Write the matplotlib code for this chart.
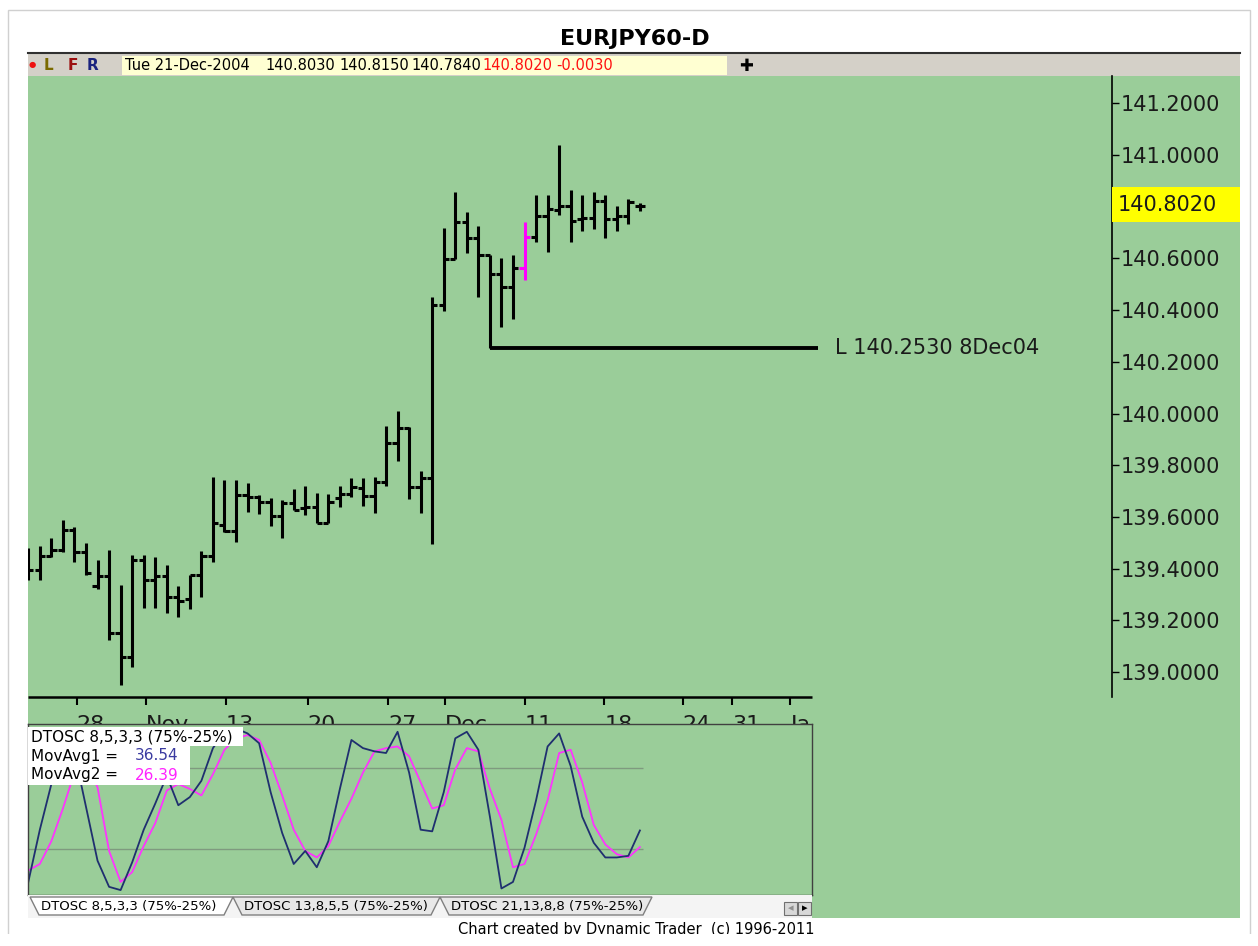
import numpy as np
import matplotlib
matplotlib.use("Agg")
import matplotlib.pyplot as plt
from matplotlib.patches import Rectangle, Polygon
from matplotlib.lines import Line2D
from matplotlib.transforms import Bbox, TransformedBbox

# ---- data (daily bars, last one Tue 21-Dec-2004) ----
opens = [139.387, 139.395, 139.449, 139.472, 139.549, 139.465, 139.334, 139.371, 139.152, 139.059,
         139.433, 139.356, 139.371, 139.291, 139.282, 139.375, 139.449, 139.569, 139.545, 139.685,
         139.678, 139.659, 139.604, 139.655, 139.634, 139.639, 139.578, 139.673, 139.689, 139.713,
         139.681, 139.736, 139.887, 139.944, 139.717, 139.752, 140.420, 140.597, 140.742, 140.678,
         140.613, 140.540, 140.491, 140.562, 140.682, 140.764, 140.787, 140.803, 140.751, 140.755,
         140.822, 140.751, 140.764, 140.803]
highs = [139.479, 139.487, 139.517, 139.588, 139.560, 139.500, 139.433, 139.472, 139.337, 139.453,
         139.453, 139.444, 139.414, 139.333, 139.375, 139.469, 139.756, 139.743, 139.743, 139.731,
         139.685, 139.673, 139.665, 139.708, 139.720, 139.694, 139.689, 139.720, 139.750, 139.750,
         139.754, 139.952, 140.011, 139.949, 139.779, 140.450, 140.718, 140.858, 140.781, 140.727,
         140.613, 140.600, 140.613, 140.742, 140.845, 140.845, 141.039, 140.865, 140.845, 140.858,
         140.845, 140.803, 140.829, 140.815]
lows = [139.356, 139.356, 139.446, 139.465, 139.427, 139.375, 139.320, 139.124, 138.950, 139.021,
        139.246, 139.246, 139.229, 139.213, 139.244, 139.291, 139.427, 139.543, 139.504, 139.619,
        139.611, 139.565, 139.518, 139.627, 139.607, 139.578, 139.578, 139.638, 139.677, 139.642,
        139.615, 139.720, 139.817, 139.669, 139.616, 139.495, 140.398, 140.597, 140.620, 140.450,
        140.253, 140.333, 140.364, 140.516, 140.665, 140.626, 140.768, 140.665, 140.707, 140.713,
        140.678, 140.707, 140.733, 140.784]
closes = [139.395, 139.449, 139.472, 139.549, 139.465, 139.384, 139.371, 139.152, 139.059, 139.433,
          139.356, 139.371, 139.291, 139.276, 139.375, 139.449, 139.576, 139.545, 139.685, 139.678,
          139.659, 139.604, 139.655, 139.627, 139.639, 139.578, 139.659, 139.689, 139.717, 139.681,
          139.736, 139.887, 139.944, 139.717, 139.752, 140.420, 140.597, 140.742, 140.678, 140.613,
          140.540, 140.491, 140.562, 140.682, 140.764, 140.790, 140.803, 140.746, 140.755, 140.822,
          140.751, 140.764, 140.819, 140.802]
highlight_bar = 43          # the magenta bar

# DTOSC 8,5,3,3 fast line and its moving average
osc_fast = [5, 37, 65, 92, 84, 51, 18, 2, 0, 17,
            37, 53, 70, 52, 57, 67, 87, 97, 99, 96,
            90, 60, 35, 16, 24, 14, 30, 62, 92, 87,
            85, 84, 97, 72, 37, 36, 60, 93, 97, 86,
            45, 1, 5, 26, 55, 88, 96, 76, 45, 29,
            20, 20, 21, 36.54]
osc_slow = [12, 16, 30, 50, 72, 78, 63, 24, 5, 11,
            27, 41, 61, 65, 62, 58, 71, 86, 93, 95,
            92, 78, 58, 37, 24, 20, 27, 42, 56, 72,
            85, 87, 88, 82, 66, 50, 52, 74, 87, 85,
            62, 43, 14, 16, 34, 55, 84, 86, 66, 40,
            28, 22, 20, 26.39]

price_ticks = [139.0, 139.2, 139.4, 139.6, 139.8, 140.0, 140.2, 140.4, 140.6, 141.0, 141.2]
date_tick_pos = [4.2, 10.2, 17.1, 24.2, 31.2, 36.1, 43.0, 49.9, 56.7, 61.0, 66.0]
date_labels = ["28", "Nov", "13", "20", "27", "Dec", "11", "18", "24", "31", "Jan"]

support_price = 140.253
support_bar = 40
support_label = "L 140.2530 8Dec04"

info_texts = ["Tue 21-Dec-2004", "140.8030", "140.8150", "140.7840", "140.8020", "-0.0030"]
info_colors = ["black", "black", "black", "black", "#ff1010", "#ff1010"]
tab_labels = ["DTOSC 8,5,3,3 (75%-25%)", "DTOSC 13,8,5,5 (75%-25%)", "DTOSC 21,13,8,8 (75%-25%)"]

# ---- pixel layout helpers ----
W, H, DPI = 1258, 946, 100
GREEN = "#9acd99"


def fig_box(x0, y0, x1, y1):
    return [x0 / W, 1 - y1 / H, (x1 - x0) / W, (y1 - y0) / H]


def fx(x):
    return x / W


def fy(y):
    return 1 - y / H


def bar_at(x):      # screen x -> bar index
    return (x - 28.3) / 11.54


def price_at(y):    # screen y -> price
    return 141.2 - (y - 103.3) / 258.5


def osc_at(y):      # screen y -> oscillator value
    return 75 - (y - 767.7) / 1.632


fig = plt.figure(figsize=(W / DPI, H / DPI), dpi=DPI)
fig.patch.set_facecolor("white")


def add_rect(x0, y0, x1, y1, **kw):
    r = Rectangle((fx(x0), fy(y1)), (x1 - x0) / W, (y1 - y0) / H, transform=fig.transFigure, **kw)
    fig.add_artist(r)
    return r


# window frame, background, toolbar
add_rect(8, 10, 1250, 938, fill=False, edgecolor="#d0d0d0", lw=1, zorder=-10)
add_rect(28, 76, 1240, 918, facecolor=GREEN, edgecolor="none", zorder=-9)
add_rect(28, 53, 1240, 76, facecolor="#d4d0c8", edgecolor="none", zorder=-8)
fig.add_artist(Line2D([fx(28), fx(1240)], [fy(53), fy(53)], transform=fig.transFigure,
                      color="#303030", lw=1.5, zorder=-7))
add_rect(122, 56, 727, 75, facecolor="#ffffd2", edgecolor="none", zorder=-7)

fig.text(fx(635), fy(39), "EURJPY60-D", ha="center", va="center", fontsize=16, weight="bold")

fig.text(fx(32), fy(65), "\u25cf", color="#ee1111", fontsize=6, ha="center", va="center")
for x, s, c in [(48, "L", "#7a6a00"), (73, "F", "#9b1010"), (93, "R", "#1a237e")]:
    fig.text(fx(x), fy(65.5), s, color=c, fontsize=11, weight="bold", ha="center", va="center")
info_x = [125, 265, 339, 411, 482, 556]
for x, s, c in zip(info_x, info_texts, info_colors):
    fig.text(fx(x), fy(66), s, color=c, fontsize=10.5, ha="left", va="center")
fig.text(fx(746), fy(66), "\u271a", fontsize=12, ha="center", va="center")

# ---- price panel ----
ax = fig.add_axes(fig_box(28, 76, 1112, 697))
ax.set_facecolor("none")
ax.set_xlim(bar_at(28), bar_at(1112))
ax.set_ylim(price_at(697), price_at(76))
for side in ["top", "left", "bottom"]:
    ax.spines[side].set_visible(False)
ax.spines["right"].set_linewidth(1.2)

idx = np.arange(len(opens))
colors = ["black"] * len(opens)
colors[highlight_bar] = "#ff00ff"
ax.vlines(idx, lows, highs, colors=colors, lw=2.2)
ax.hlines(opens, idx - 0.45, idx, colors=colors, lw=2.2)
ax.hlines(closes, idx, idx + 0.45, colors=colors, lw=2.2)

# support line from the 8 Dec low
ax.hlines(support_price, support_bar, bar_at(818), colors="black", lw=2.8)
ax.text(bar_at(835), support_price, support_label, fontsize=15, va="center", ha="left", color="#1a1a1a")

ax.yaxis.tick_right()
ax.set_yticks(price_ticks)
ax.set_yticklabels([f"{p:.4f}" for p in price_ticks])
ax.tick_params(axis="y", direction="out", length=5, width=1, pad=1, labelsize=15, labelcolor="#1a1a1a")

# date axis; its labels sit half hidden behind the oscillator window
ax.set_xticks(date_tick_pos)
ax.set_xticklabels(date_labels)
ax.tick_params(axis="x", direction="out", length=6, width=1.5, pad=7, labelsize=16, labelcolor="#1a1a1a")
clip = TransformedBbox(Bbox([[0, 0], [fx(812), 1]]), fig.transFigure)
for lbl in ax.get_xticklabels():
    lbl.set_ha("left")
    lbl.set_clip_on(True)
    lbl.set_clip_box(clip)
ax.plot([bar_at(28), bar_at(812)], [0, 0], transform=ax.get_xaxis_transform(),
        color="black", lw=1.8, clip_on=False, solid_capstyle="butt")

# current price tag
add_rect(1112, 187, 1240, 222, facecolor="#ffff00", edgecolor="none", zorder=2)
fig.text(fx(1118), fy(205), f"{closes[-1]:.4f}", fontsize=15, ha="left", va="center",
         color="#1a1a1a", zorder=3)

# ---- oscillator panel ----
ax2 = fig.add_axes(fig_box(28, 724, 812, 895))
ax2.set_zorder(1)
ax2.set_facecolor(GREEN)
ax2.set_xlim(bar_at(28), bar_at(812))
ax2.set_ylim(osc_at(895), osc_at(724))
ax2.set_xticks([])
ax2.set_yticks([])
for sp in ax2.spines.values():
    sp.set_color("#404040")
    sp.set_linewidth(1)
ax2.hlines([25, 75], bar_at(28), bar_at(643), colors="#7f9a7f", lw=1)
ax2.plot(idx, osc_slow, color="#ff33ff", lw=1.3)
ax2.plot(idx, osc_fast, color="#1f2f6f", lw=1.3)

# indicator legend
add_rect(28, 727, 243, 746, facecolor="white", edgecolor="none", zorder=2)
add_rect(28, 746, 190, 785, facecolor="white", edgecolor="none", zorder=2)
fig.text(fx(31), fy(737), "DTOSC 8,5,3,3 (75%-25%)", fontsize=11, va="center", zorder=3)
fig.text(fx(31), fy(756), "MovAvg1 =", fontsize=11, va="center", zorder=3)
fig.text(fx(135), fy(756), f"{osc_fast[-1]:.2f}", fontsize=11, va="center", color="#3a3aa0", zorder=3)
fig.text(fx(31), fy(775), "MovAvg2 =", fontsize=11, va="center", zorder=3)
fig.text(fx(135), fy(775), f"{osc_slow[-1]:.2f}", fontsize=11, va="center", color="#ff22ff", zorder=3)

# ---- tab strip ----
add_rect(28, 895, 812, 918, facecolor="#f4f4f4", edgecolor="none", zorder=2)
tab_x = [(30, 233), (233, 440), (440, 652)]
for i in [2, 1, 0]:
    a, b = tab_x[i]
    pts = [(fx(a), fy(897)), (fx(b), fy(897)), (fx(b - 9), fy(915)), (fx(a + 9), fy(915))]
    face = "white" if i == 0 else "#e8e8e8"
    fig.add_artist(Polygon(pts, closed=True, transform=fig.transFigure, facecolor=face,
                           edgecolor="#808080", lw=1, zorder=2.5))
    fig.text(fx(a + 11), fy(906.5), tab_labels[i], fontsize=9.5, va="center", ha="left", zorder=3)
add_rect(784, 902, 797, 915, facecolor="#d8d8d8", edgecolor="#707070", lw=0.8, zorder=2.5)
add_rect(798, 902, 811, 915, facecolor="#d8d8d8", edgecolor="#707070", lw=0.8, zorder=2.5)
fig.text(fx(790.5), fy(908.5), "\u25c2", fontsize=8, ha="center", va="center", color="#909090", zorder=3)
fig.text(fx(804.5), fy(908.5), "\u25b8", fontsize=8, ha="center", va="center", zorder=3)

fig.text(fx(815), fy(929), "Chart created by Dynamic Trader  (c) 1996-2011", fontsize=10.5,
         ha="right", va="center", zorder=3)
add_rect(0, 934, 1258, 946, facecolor="white", edgecolor="none", zorder=5)

fig.savefig("out.png", dpi=DPI, facecolor=fig.get_facecolor())
